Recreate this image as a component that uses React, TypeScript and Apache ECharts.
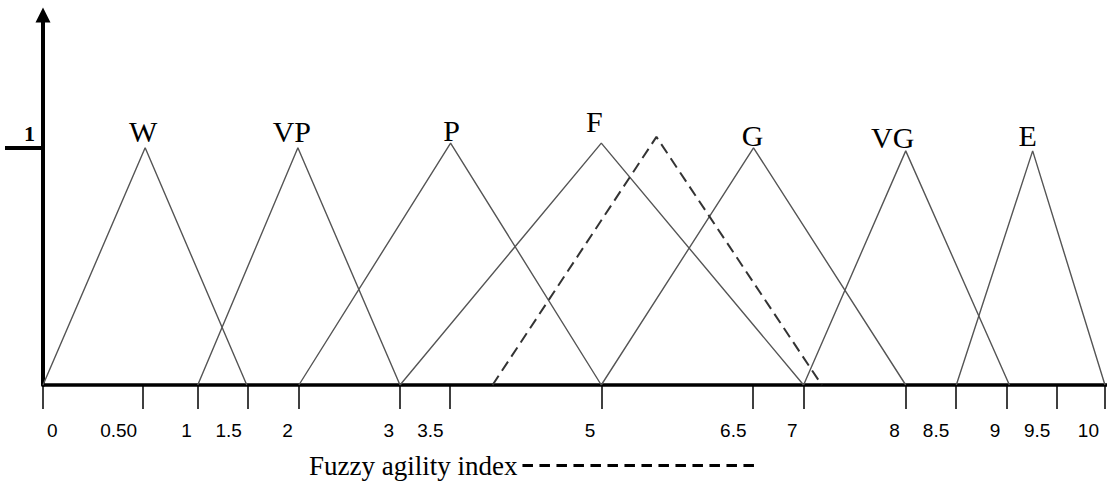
import React, { useEffect, useRef } from 'react';
import * as echarts from 'echarts';

// x positions are in "axis position units" (the reference axis is not linear in its labels)
const tickPositions = [0, 1.98, 3.06, 4.05, 5.06, 7.06, 8.04, 11.04, 14.03, 15.04, 17.06, 18.04, 19.05, 20.04, 21.0];
const tickLabels = ['0', '0.50', '1', '1.5', '2', '3', '3.5', '5', '6.5', '7', '8', '8.5', '9', '9.5', '10'];

const yTickValues = [1];
const yTickLabels = ['1'];

const setNames = ['W', 'VP', 'P', 'F', 'G', 'VG', 'E'];
const setLeft = [0, 3.06, 5.06, 7.06, 11.04, 15.04, 18.06];
const setPeak = [2.02, 5.04, 8.06, 11.04, 14.05, 17.06, 19.57];
const setRight = [4.03, 7.06, 11.04, 15.04, 17.06, 19.11, 21.0];
const setPeakValue = [1.0, 1.0, 1.02, 1.02, 1.0, 0.987, 0.987];

const indexName = 'Fuzzy agility index';
const indexX = [8.89, 12.13, 15.4];
const indexY = [0, 1.046, 0];

// label placement tweaks (style only)
const labelOffsets: number[][] = [[-2, -1], [-6, -1], [1, 2], [-7, -7], [-1, 2.5], [-13, 2], [-5, 0]];

export default function App() {
  const ref = useRef<HTMLDivElement>(null);
  useEffect(() => {
    if (!ref.current) return;
    const chart = echarts.init(ref.current, null, { renderer: 'svg' });
    const setSeries = setNames.map((n, i) => ({
      type: 'line',
      name: n,
      symbol: 'circle',
      symbolSize: 0,
      showSymbol: true,
      lineStyle: { color: '#555', width: 1.4 },
      itemStyle: { color: '#555' },
      emphasis: { disabled: true },
      data: [
        [setLeft[i], 0],
        {
          value: [setPeak[i], setPeakValue[i]],
          label: {
            show: true,
            formatter: n,
            position: 'top',
            distance: 0,
            offset: labelOffsets[i],
            fontFamily: 'Liberation Serif',
            fontSize: 30,
            color: '#000',
          },
        },
        [setRight[i], 0],
      ],
    }));
    const indexSeries = {
      type: 'line',
      name: indexName,
      symbol: 'none',
      lineStyle: { color: '#333', width: 2, type: [11, 6] },
      itemStyle: { color: '#333' },
      emphasis: { disabled: true },
      data: indexX.map((x, i) => [x, indexY[i]]),
    };
    chart.setOption({
      animation: false,
      backgroundColor: '#fff',
      grid: { left: 43, right: 0, top: 15, bottom: 96, containLabel: false, outerBoundsMode: 'none' },
      legend: {
        data: [indexName],
        left: 304,
        top: 447,
        align: 'right',
        itemWidth: 232,
        itemHeight: 14,
        selectedMode: false,
        textStyle: { fontFamily: 'Liberation Serif', fontSize: 27, color: '#000', padding: [0, 0, 6, 0] },
        itemStyle: { opacity: 0, borderWidth: 0 },
        lineStyle: { width: 3, type: [10.5, 6.5], color: '#000', opacity: 1 },
      },
      xAxis: {
        type: 'value',
        min: 0,
        max: 21.04,
        splitLine: { show: false },
        axisLine: { show: true, onZero: true, lineStyle: { color: '#000', width: 3.5 } },
        axisTick: { show: true, customValues: tickPositions, length: 24, lineStyle: { color: '#000', width: 1.5 } },
        axisLabel: {
          show: true,
          customValues: tickPositions,
          formatter: (v: number) => {
            const idx = tickPositions.findIndex((p) => Math.abs(p - v) < 1e-6);
            return idx >= 0 ? tickLabels[idx] : '';
          },
          align: 'right',
          alignMinLabel: 'left',
          padding: [0, 6, 0, 4],
          margin: 36,
          fontFamily: 'Liberation Sans',
          fontSize: 19,
          color: '#000',
        },
      },
      yAxis: {
        type: 'value',
        min: 0,
        max: 1.56,
        splitLine: { show: false },
        axisLine: {
          show: true,
          symbol: ['none', 'triangle'],
          symbolSize: [15, 15],
          lineStyle: { color: '#000', width: 4 },
        },
        axisTick: { show: true, customValues: yTickValues, length: 38, lineStyle: { color: '#000', width: 4 } },
        axisLabel: {
          show: true,
          customValues: yTickValues,
          formatter: (v: number) => {
            const idx = yTickValues.findIndex((p) => Math.abs(p - v) < 1e-6);
            return idx >= 0 ? yTickLabels[idx] : '';
          },
          margin: 8,
          verticalAlign: 'bottom',
          padding: [0, 0, 3, 0],
          fontFamily: 'Liberation Serif',
          fontWeight: 'bold',
          fontSize: 22,
          color: '#000',
        },
      },
      series: [...setSeries, indexSeries],
    });
    return () => chart.dispose();
  }, []);
  return (
    <div
      ref={ref}
      style={{ position: 'fixed', left: 0, top: 0, width: 1107, height: 481, background: '#fff' }}
    />
  );
}
